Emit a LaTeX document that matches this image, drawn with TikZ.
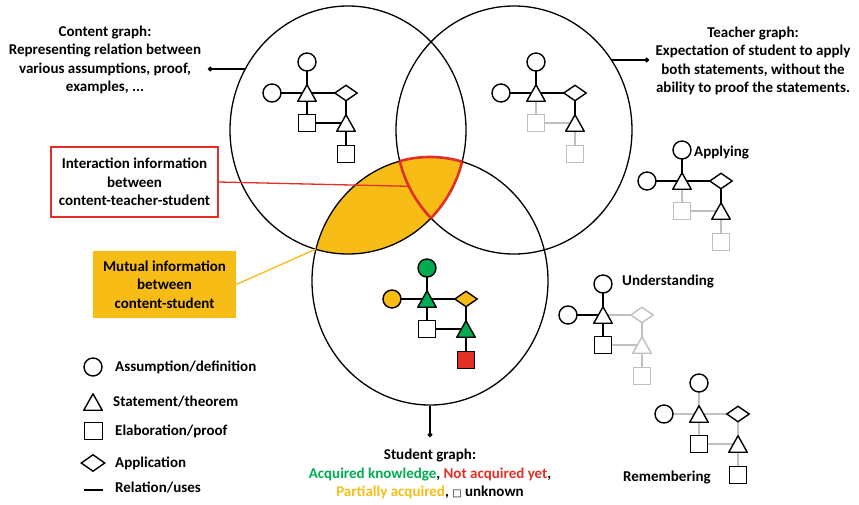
\documentclass[tikz,border=0pt]{standalone}
\usepackage{fontspec}
\setmainfont{Carlito}
\newfontfamily\sqfont{DejaVu Sans}
\usetikzlibrary{shapes.geometric,arrows.meta,backgrounds}
\pgfdeclarelayer{background}
\pgfsetlayers{background,main}

\definecolor{accgreen}{RGB}{0,172,80}
\definecolor{notred}{RGB}{226,48,38}
\definecolor{partorange}{RGB}{247,189,22}
\definecolor{lgray}{RGB}{192,192,192}

\tikzset{
  lbl/.style={font=\bfseries\fontsize{15}{18.3}\selectfont, align=center, inner sep=0pt},
  bigc/.style={draw, ellipse, line width=1.3pt, minimum width=236pt, minimum height=248pt, inner sep=0pt},
  tcol/.store in=\tcolr, tcol=black,
  tfil/.store in=\tfilr, tfil=white,
  shp/.style={draw, line width=1.4pt, fill=white, inner sep=0pt},
  ass/.style={shp, circle, minimum size=18pt},
  elb/.style={shp, minimum size=17.5pt},
  app/.style={shp, diamond, minimum width=23pt, minimum height=16pt},
  stm/.style={inner sep=0pt, minimum width=20pt, minimum height=18pt,
    path picture={\draw[line width=1.4pt, line join=round, draw=\tcolr, fill=\tfilr]
      ([shift={(0.75pt,0.75pt)}]path picture bounding box.south west) --
      ([shift={(0pt,-0.75pt)}]path picture bounding box.north) --
      ([shift={(-0.75pt,0.75pt)}]path picture bounding box.south east) -- cycle;}},
  rel/.style={line width=1.4pt},
  faded/.style={draw=lgray},
  fadedt/.style={tcol=lgray},
  pin/.style={line width=1.5pt, -{Circle[length=4.5pt]}},
  % hooks for one graph
  n c1/.style={}, n c2/.style={}, n t1/.style={}, n d/.style={},
  n s1/.style={}, n t2/.style={}, n s2/.style={},
  l c1/.style={}, l c2/.style={}, l d/.style={}, l s1/.style={},
  l st/.style={}, l dt/.style={}, l s2/.style={},
}

% one small graph: #2 name prefix, #3 position of the top triangle
\newcommand{\kgraph}[3][]{%
  \begin{scope}[shift={#3}, #1]
    \node[stm, n t1] (#2t1) at (0,0) {};
    \node[ass, n c1] (#2c1) at (0,-31) {};
    \node[ass, n c2] (#2c2) at (-35,0) {};
    \node[app, n d] (#2d) at (39,0) {};
    \node[elb, n s1] (#2s1) at (0,30) {};
    \node[stm, n t2] (#2t2) at (39,30) {};
    \node[elb, n s2] (#2s2) at (39,61) {};
    \begin{pgfonlayer}{background}
      \draw[rel, l c1] (#2c1.center) -- (#2t1.center);
      \draw[rel, l c2] (#2c2.center) -- (#2t1.center);
      \draw[rel, l d] (#2t1.center) -- (#2d.center);
      \draw[rel, l s1] (#2t1.center) -- (#2s1.center);
      \draw[rel, l st] (#2s1.center) -- (#2t2.center);
      \draw[rel, l dt] (#2d.center) -- (#2t2.center);
      \draw[rel, l s2] (#2t2.center) -- (#2s2.center);
    \end{pgfonlayer}
  \end{scope}}

\begin{document}
\begin{tikzpicture}[x=1pt,y=-1pt]
\useasboundingbox (0,0) rectangle (859,504);

% the three graphs
\node[bigc] (content) at (348,130) {};
\node[bigc] (teacher) at (514,130) {};
\node[bigc] (student) at (430,281) {};

% content-student overlap
\begin{pgfonlayer}{background}
\begin{scope}
  \clip (content.center) ellipse [x radius=118, y radius=124];
  \fill[partorange] (student.center) ellipse [x radius=118, y radius=124];
\end{scope}
\end{pgfonlayer}

% content-teacher-student overlap
\begin{scope}
  \clip (content.center) ellipse [x radius=118, y radius=124];
  \clip (teacher.center) ellipse [x radius=118, y radius=124];
  \draw[notred, line width=2.6pt] (student.center) ellipse [x radius=118, y radius=124];
\end{scope}
\begin{scope}
  \clip (teacher.center) ellipse [x radius=118, y radius=124];
  \clip (student.center) ellipse [x radius=118, y radius=124];
  \draw[notred, line width=2.6pt] (content.center) ellipse [x radius=118, y radius=124];
\end{scope}
\begin{scope}
  \clip (content.center) ellipse [x radius=118, y radius=124];
  \clip (student.center) ellipse [x radius=118, y radius=124];
  \draw[notred, line width=2.6pt] (teacher.center) ellipse [x radius=118, y radius=124];
\end{scope}

% small graphs
\kgraph{cg}{(307,93)}
\kgraph[n s1/.style=faded, n s2/.style=faded, l s1/.style=faded, l st/.style=faded, l s2/.style=faded]{tg}{(536,93)}
\kgraph[n c1/.style={fill=accgreen}, n c2/.style={fill=partorange}, n t1/.style={tfil=accgreen},
  n d/.style={fill=partorange}, n t2/.style={tfil=accgreen}, n s2/.style={fill=notred}]{sg}{(427,299)}
\kgraph[n s1/.style=faded, n s2/.style=faded, l s1/.style=faded, l st/.style=faded, l s2/.style=faded]{ap}{(682,181)}
\kgraph[n d/.style=faded, n t2/.style=fadedt, n s2/.style=faded, l d/.style=faded, l st/.style=faded,
  l dt/.style=faded, l s2/.style=faded]{un}{(603,315)}
\kgraph[l c1/.style=faded, l c2/.style=faded, l d/.style=faded, l s1/.style=faded, l st/.style=faded,
  l dt/.style=faded, l s2/.style=faded]{re}{(699,414)}

\node[lbl, anchor=west] (aplbl) at (694,153) {Applying};
\node[lbl, anchor=west] (unlbl) at (622,282) {Understanding};
\node[lbl, anchor=west] (relbl) at (623,477) {Remembering};

% graph captions
\node[lbl] (ctext) at (105,60) {Content graph:\\Representing relation between\\various assumptions, proof,\\examples, ...};
\coordinate (cdot) at (208,69);
\draw[pin] (content.149 |- cdot) -- (cdot);

\node[lbl] (ttext) at (753,61) {Teacher graph:\\Expectation of student to apply\\both statements, without the\\ability to proof the statements.};
\coordinate (tdot) at (649,60);
\draw[pin] (teacher.36 |- tdot) -- (tdot);

\coordinate (sdot) at (430,437);
\draw[pin] (student.south) -- (sdot);
\node[lbl, anchor=north] (stext) at (430,449) {Student graph:\\
  \textcolor{accgreen}{Acquired knowledge}, \textcolor{notred}{Not acquired yet},\\
  \textcolor{partorange}{Partially acquired}, {\sqfont\fontsize{10}{10}\selectfont □} unknown};

% information boxes
\node[lbl, draw=notred, line width=1.5pt, fill=white, minimum width=167pt, minimum height=70pt] (ibox) at (134.5,182)
  {Interaction information\\between\\content-teacher-student};
\draw[notred, line width=1.3pt] (ibox.east) -- (teacher.208);

\node[lbl, fill=partorange, minimum width=143pt, minimum height=67pt] (mbox) at (164.5,284.5)
  {Mutual information\\between\\content-student};
\coordinate (lens) at (316,249);
\draw[partorange, line width=1.3pt] (mbox.east) -- (lens);

% legend
\node[ass] (lgass) at (93,367) {};
\node[stm] (lgstm) at (93,402) {};
\node[elb] (lgelb) at (93.5,431) {};
\node[app, minimum width=24pt, minimum height=17pt] (lgapp) at (93,463) {};
\coordinate (lgrela) at (84,490);
\coordinate (lgrelb) at (103,490);
\draw[rel] (lgrela) -- (lgrelb);
\node[lbl, anchor=west] (lgasst) at (115,367) {Assumption/definition};
\node[lbl, anchor=west] (lgstmt) at (113,402) {Statement/theorem};
\node[lbl, anchor=west] (lgelbt) at (115,431) {Elaboration/proof};
\node[lbl, anchor=west] (lgappt) at (115,463) {Application};
\node[lbl, anchor=west] (lgrelt) at (115,488) {Relation/uses};

\end{tikzpicture}
\end{document}
